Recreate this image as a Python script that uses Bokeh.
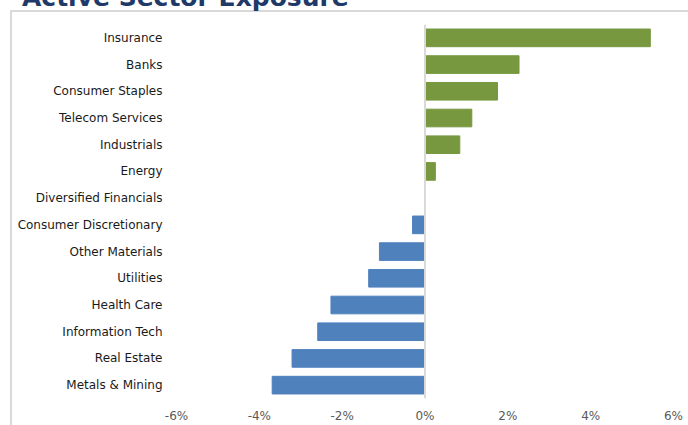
from bokeh.plotting import figure
from bokeh.layouts import column
from bokeh.models import (FactorRange, Span, Div, FixedTicker, InlineStyleSheet,
                          PrintfTickFormatter, ColumnDataSource)
from bokeh.embed import file_html
from bokeh.resources import INLINE

# ---- data (top to bottom as displayed) ----
sectors = ["Insurance", "Banks", "Consumer Staples", "Telecom Services", "Industrials",
           "Energy", "Diversified Financials", "Consumer Discretionary", "Other Materials",
           "Utilities", "Health Care", "Information Tech", "Real Estate", "Metals & Mining"]
exposure = [5.44, 2.27, 1.75, 1.13, 0.84, 0.25, 0.0, -0.30, -1.10, -1.36, -2.27, -2.59, -3.21, -3.69]
x_ticks = [-6, -4, -2, 0, 2, 4, 6]
title_text = "Active Sector Exposure"

GREEN = "#77983F"
BLUE = "#4F81BD"
colors = [GREEN if v > 0 else BLUE for v in exposure]

src = ColumnDataSource(dict(sector=sectors, value=exposure, color=colors))

p = figure(width=688, height=425, output_backend="svg", toolbar_location=None,
           y_range=FactorRange(factors=list(reversed(sectors)), range_padding=0),
           x_range=(-6, 6),
           min_border_left=176, min_border_right=15, min_border_top=24, min_border_bottom=26)

# light grey chart-area border (top and left edges) starting at (10, 10)
p.stylesheets = [InlineStyleSheet(css="""
:host { position: relative; }
:host::after {
  content: ""; position: absolute; left: 10px; top: 10px; right: 0; bottom: 0;
  border-top: 2px solid #d9d9d9; border-left: 2px solid #d9d9d9;
  pointer-events: none; z-index: 10;
}
""")]

p.hbar(y="sector", left=0, right="value", height=0.66, color="color", source=src)

zero = Span(location=0, dimension="height", line_color="#d9d9d9", line_width=2)
p.add_layout(zero)

p.outline_line_color = None
p.xgrid.grid_line_color = None
p.ygrid.grid_line_color = None
p.background_fill_color = "white"
p.border_fill_color = "white"

for ax in (p.xaxis[0], p.yaxis[0]):
    ax.axis_line_color = None
    ax.major_tick_line_color = None
    ax.minor_tick_line_color = None
    ax.major_tick_out = 0
    ax.major_tick_in = 0
    ax.major_label_text_font = "DejaVu Sans"
    ax.major_label_text_font_size = "12px"

p.yaxis.major_label_text_color = "#1a1a1a"
p.yaxis.major_label_standoff = 14
p.xaxis.major_label_text_color = "#595959"
p.xaxis.major_label_standoff = 10
p.xaxis.ticker = FixedTicker(ticks=x_ticks)
p.xaxis.formatter = PrintfTickFormatter(format="%d%%")

# title, partly cut off at the top of the page as in the reference
title = Div(text=title_text, styles={
    "position": "absolute", "left": "22px", "top": "-15.5px", "z-index": "20",
    "font-family": "DejaVu Sans", "font-size": "25px", "font-weight": "bold",
    "line-height": "25px", "color": "#1F3A68", "white-space": "nowrap",
    "margin": "0", "padding": "0",
})

layout = column(title, p)

open("out.html", "w").write(file_html(layout, INLINE))
